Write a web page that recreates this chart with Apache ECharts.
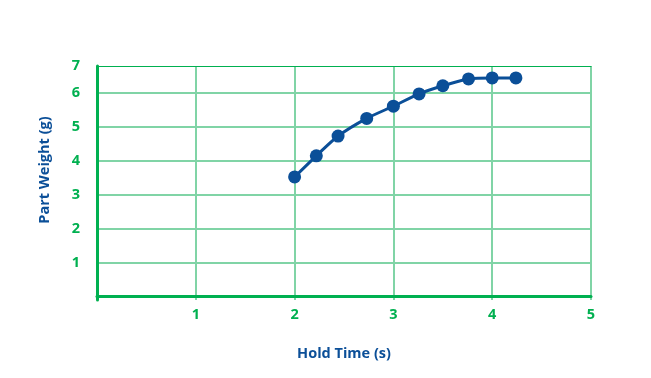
<!DOCTYPE html>
<html>
<head>
<meta charset="utf-8">
<script src="https://cdn.jsdelivr.net/npm/echarts@6/dist/echarts.min.js"></script>
<style>
html,body{margin:0;padding:0;background:#fff;}
#c{width:651px;height:378px;}
</style>
</head>
<body>
<div id="c"></div>
<script>
// Data
const holdTime = [2.0, 2.22, 2.44, 2.73, 3.0, 3.26, 3.5, 3.76, 4.0, 4.24];
const partWeight = [3.52, 4.14, 4.72, 5.24, 5.60, 5.96, 6.20, 6.40, 6.43, 6.43];
const xTicks = [1, 2, 3, 4, 5];
const yGridValues = [1, 2, 3, 4, 5, 6];
const yLabelValues = [1, 2, 3, 4, 5, 6, 6.78];
const yLabelTexts = ['1', '2', '3', '4', '5', '6', '7'];

const green = '#00b050';
const lightGreen = '#80d4a6';
const blue = '#0b4f98';
const font = 'Open Sans';

const chart = echarts.init(document.getElementById('c'), null, {renderer: 'canvas'});
chart.setOption({
  animation: false,
  grid: {left: 97, right: 60, top: 66, bottom: 78, containLabel: false},
  xAxis: [{
    type: 'value', min: 0, max: 5, interval: 1,
    name: 'Hold Time (s)', nameLocation: 'middle', nameGap: 46,
    nameTextStyle: {color: blue, fontFamily: font, fontWeight: 'bold', fontSize: 14.5},
    axisLine: {show: true, lineStyle: {color: green, width: 3}},
    axisTick: {show: false},
    axisLabel: {
      color: green, fontFamily: font, fontWeight: 'bold', fontSize: 14.5, margin: 7,
      formatter: v => (xTicks.indexOf(v) >= 0 ? String(v) : '')
    },
    splitLine: {show: true, lineStyle: {color: lightGreen, width: 2}}
  }, {
    type: 'value', min: 0, max: 5, position: 'top',
    axisLine: {show: true, onZero: false, lineStyle: {color: green, width: 1}},
    axisTick: {show: false}, axisLabel: {show: false}, splitLine: {show: false}
  }],
  yAxis: {
    type: 'value', min: -0.1, max: 6.78,
    name: 'Part Weight (g)', nameLocation: 'middle', nameGap: 45,
    nameTextStyle: {color: blue, fontFamily: font, fontWeight: 'bold', fontSize: 14.5, padding: [0, 0, 0, 26]},
    axisLine: {show: true, onZero: false, lineStyle: {color: green, width: 3}},
    axisTick: {show: false, customValues: yGridValues},
    axisLabel: {
      color: green, fontFamily: font, fontWeight: 'bold', fontSize: 14.5, margin: 17,
      customValues: yLabelValues,
      formatter: v => {
        const i = yLabelValues.indexOf(v);
        return i >= 0 ? yLabelTexts[i] : '';
      }
    },
    splitLine: {show: true, lineStyle: {color: lightGreen, width: 2}}
  },
  series: [{
    type: 'line',
    data: holdTime.map((x, i) => [x, partWeight[i]]),
    smooth: 0.2,
    symbol: 'circle', symbolSize: 13,
    lineStyle: {color: blue, width: 3},
    itemStyle: {color: blue}
  }]
});
</script>
</body>
</html>
